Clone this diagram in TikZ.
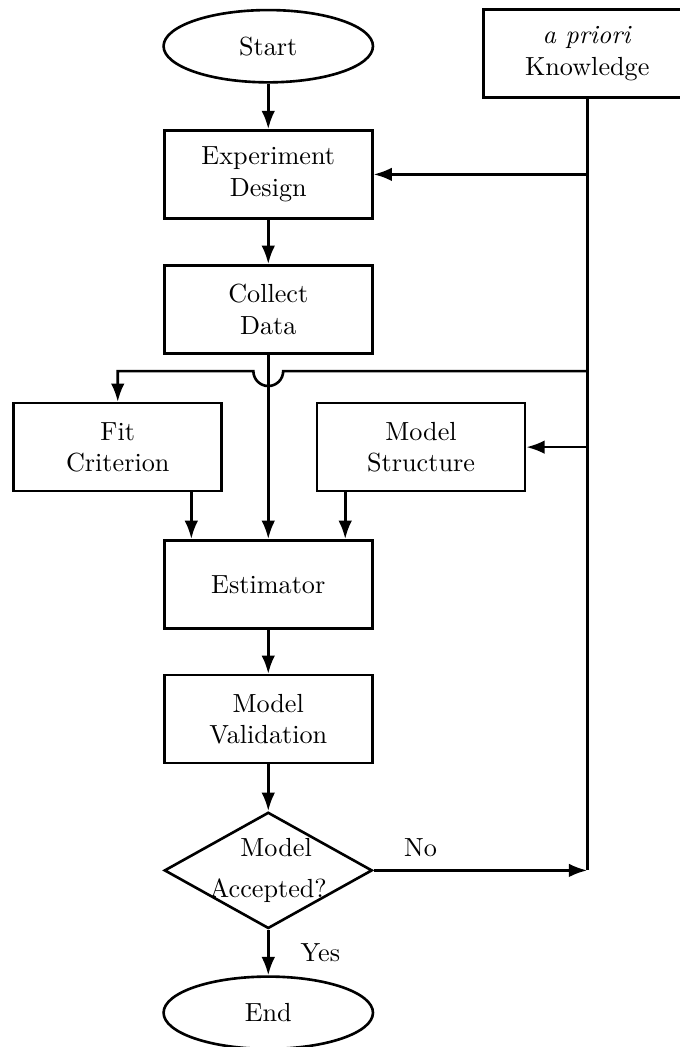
\documentclass[tikz,border=0pt]{standalone}
\usetikzlibrary{shapes.geometric,arrows.meta}
\begin{document}
\begin{tikzpicture}[
  box/.style={draw,line width=1pt,minimum width=2.79cm,minimum height=1.18cm,align=center},
  term/.style={draw,line width=1pt,ellipse,minimum width=2.81cm,minimum height=0.97cm},
  decision/.style={draw,line width=1pt,diamond,minimum width=2.79cm,minimum height=1.56cm,inner sep=0pt},
  arrow/.style={line width=1pt,-{Latex[length=7pt,width=5.2pt]}},
  link/.style={line width=1pt}
]
\useasboundingbox (0,0) rectangle (9.12,-14.05);

\node[term] (start) at (3.60,-0.62) {Start};
\node[box] (prior) at (7.88,-0.72) {\textit{a priori}\\Knowledge};
\node[box] (design) at (3.60,-2.34) {Experiment\\Design};
\node[box] (data) at (3.60,-4.15) {Collect\\Data};
\node[box] (fit) at (1.58,-6.00) {Fit\\Criterion};
\node[box] (struct) at (5.65,-6.00) {Model\\Structure};
\node[box] (est) at (3.60,-7.84) {Estimator};
\node[box] (valid) at (3.60,-9.65) {Model\\Validation};
\node[decision,label={[align=center]center:\hspace{6pt}Model\\[3.5pt]Accepted?}] (accept) at (3.60,-11.68) {};
\node[term] (end) at (3.60,-13.59) {End};

\coordinate (back) at (prior.south |- accept.east);
\coordinate (split) at (7.88,-4.98);

\draw[arrow] (start) -- (design);
\draw[arrow] (design) -- (data);
\draw[arrow] (data) -- (est);
\draw[arrow] ([xshift=0.38cm]est.north west |- fit.south) -- ([xshift=0.38cm]est.north west);
\draw[arrow] ([xshift=-0.38cm]est.north east |- struct.south) -- ([xshift=-0.38cm]est.north east);
\draw[arrow] (est) -- (valid);
\draw[arrow] (valid) -- (accept);
\draw[arrow] (accept) -- node[right,xshift=3mm] {Yes} (end);
\draw[arrow] (accept.east) -- node[above,pos=0.22,yshift=1.5pt] {No} (back);

% a priori knowledge feeds back
\draw[link] (prior.south) -- (back);
\draw[arrow] (prior.south |- design.east) -- (design.east);
\draw[arrow] (prior.south |- struct.east) -- (struct.east);
\draw[arrow] (split) -- (3.80,-4.98) arc (0:-180:0.2) -- (fit.north |- split) -- (fit.north);
\end{tikzpicture}
\end{document}
